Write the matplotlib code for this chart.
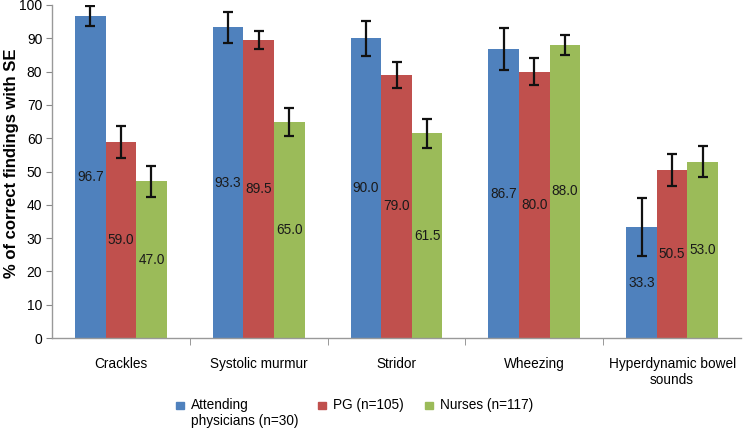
import matplotlib.pyplot as plt
import matplotlib.patches as mpatches
import numpy as np

plt.rcParams['font.family'] = ['Liberation Sans', 'DejaVu Sans']

# data
categories = ['Crackles', 'Systolic murmur', 'Stridor', 'Wheezing', 'Hyperdynamic bowel\nsounds']
series = ['Attending\nphysicians (n=30)', 'PG (n=105)', 'Nurses (n=117)']
attending = [96.7, 93.3, 90.0, 86.7, 33.3]
pg = [59.0, 89.5, 79.0, 80.0, 50.5]
nurses = [47.0, 65.0, 61.5, 88.0, 53.0]
attending_se = [3.0, 4.6, 5.3, 6.3, 8.7]
pg_se = [4.8, 2.8, 4.0, 4.0, 4.9]
nurses_se = [4.6, 4.2, 4.3, 3.0, 4.6]
colors = ['#4F81BD', '#C0504D', '#9BBB59']

values = [attending, pg, nurses]
errors = [attending_se, pg_se, nurses_se]

fig = plt.figure(figsize=(7.49, 4.28), dpi=100)
ax = fig.add_axes([52/749, 90/428, 689/749, 333/428])

x = np.arange(len(categories))
w = 0.222
for i in range(3):
    pos = x + (i - 1) * w
    ax.bar(pos, values[i], w, color=colors[i], zorder=2)
    ax.errorbar(pos, values[i], yerr=errors[i], fmt='none', ecolor='#111111',
                elinewidth=1.6, capsize=3.8, capthick=1.6, zorder=3)
    for p, v in zip(pos, values[i]):
        ax.text(p, v / 2, f'{v:.1f}', ha='center', va='center', fontsize=9.8,
                color='#1a1a1a', zorder=4)

ax.set_xlim(-0.5, len(categories) - 0.5)
ax.set_ylim(0, 100)
ax.set_yticks(range(0, 101, 10))
ax.set_xticks(x)
ax.set_xticklabels(categories, fontsize=9.8, linespacing=1.15)
ax.set_xticks(np.arange(0.5, len(categories) - 0.5), minor=True)
ax.tick_params(axis='x', which='major', length=0, pad=14)
ax.tick_params(axis='x', which='minor', length=5, color='#888888', direction='out')
ax.tick_params(axis='y', length=4, color='#888888', labelsize=10, pad=3)
for s in ['top', 'right']:
    ax.spines[s].set_visible(False)
for s in ['left', 'bottom']:
    ax.spines[s].set_color('#999999')
    ax.spines[s].set_linewidth(1)

fig.text(12/749, (428 - 163)/428, '% of correct findings with SE', rotation=90,
         ha='center', va='center', fontsize=12, fontweight='bold')

# legend
leg_x = [176, 318, 425]
for i in range(3):
    fig.patches.append(mpatches.Rectangle((leg_x[i]/749, (428 - 409)/428), 8/749, 7/428,
                                          transform=fig.transFigure, color=colors[i]))
    fig.text((leg_x[i] + 15)/749, (428 - 398)/428, series[i], ha='left', va='top',
             fontsize=9.8, linespacing=1.2)

fig.savefig('out.png', dpi=100)
